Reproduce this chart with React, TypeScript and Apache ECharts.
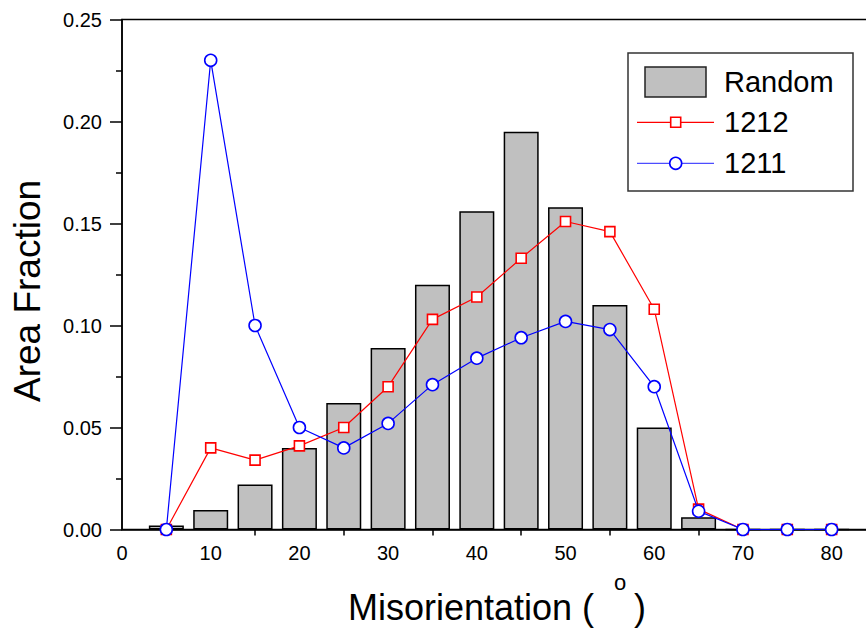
import React, { useEffect, useRef } from "react";
import * as echarts from "echarts";

const angles = [5, 10, 15, 20, 25, 30, 35, 40, 45, 50, 55, 60, 65, 70, 75, 80];
const randomValues = [0.002, 0.0095, 0.022, 0.04, 0.062, 0.089, 0.12, 0.156, 0.195, 0.158, 0.11, 0.05, 0.006, 0, 0, 0];
const values1212 = [0, 0.04, 0.034, 0.041, 0.05, 0.07, 0.103, 0.114, 0.133, 0.151, 0.146, 0.108, 0.01, 0, 0, 0];
const values1211 = [0, 0.23, 0.1, 0.05, 0.04, 0.052, 0.071, 0.084, 0.094, 0.102, 0.098, 0.07, 0.009, 0, 0, 0];
const xLabelValues = [0, 10, 20, 30, 40, 50, 60, 70, 80];
const xMinorTicks = [5, 15, 25, 35, 45, 55, 65, 75];
const xInnerTicks = [5, 10, 15, 20, 25, 30, 35, 40, 45, 50, 55, 60, 65, 70, 75, 80];

const FONT = "Arial, 'Liberation Sans', sans-serif";

export default function App() {
  const ref = useRef<HTMLDivElement>(null);
  useEffect(() => {
    if (!ref.current) return;
    const chart = echarts.init(ref.current, undefined, { renderer: "svg" });
    const pair = (vals: number[]) => angles.map((a, i) => [a, vals[i]]);
    chart.setOption({
      animation: false,
      backgroundColor: "#fff",
      grid: {
        left: 122,
        top: 19.5,
        right: 0,
        bottom: 101.5,
        show: true,
        borderColor: "#000",
        borderWidth: 1.5,
        backgroundColor: "transparent",
      },
      xAxis: [
        {
          type: "value",
          min: 0,
          max: 85,
          interval: 10,
          axisLine: { show: true, onZero: false, lineStyle: { color: "#000", width: 1.5 } },
          axisTick: { show: true, inside: true, length: 6, customValues: xInnerTicks, lineStyle: { color: "#000", width: 1.5 } },
          axisLabel: { show: true, customValues: xLabelValues, margin: 13, fontSize: 20, color: "#000", fontFamily: FONT },
          splitLine: { show: false },
        },
        {
          type: "value",
          min: 0,
          max: 85,
          interval: 10,
          position: "bottom",
          axisLine: { show: false },
          axisTick: { show: true, inside: false, length: 6, customValues: xMinorTicks, lineStyle: { color: "#000", width: 1.5 } },
          axisLabel: { show: false },
          splitLine: { show: false },
        },
      ],
      yAxis: {
        type: "value",
        min: 0,
        max: 0.25,
        interval: 0.05,
        axisLine: { show: true, lineStyle: { color: "#000", width: 1.5 } },
        axisTick: { show: true, inside: false, length: 12, lineStyle: { color: "#000", width: 1.5 } },
        minorTick: { show: true, splitNumber: 2, length: 6, lineStyle: { color: "#000", width: 1.5 } },
        axisLabel: {
          margin: 20,
          fontSize: 20,
          color: "#000",
          fontFamily: FONT,
          formatter: (v: number) => v.toFixed(2),
        },
        splitLine: { show: false },
        minorSplitLine: { show: false },
      },
      series: [
        {
          name: "Random",
          type: "bar",
          xAxisIndex: 0,
          data: pair(randomValues),
          barWidth: 35,
          itemStyle: { color: "#c0c0c0", borderColor: "#000", borderWidth: 1.5 },
          z: 2,
        },
        {
          name: "1212",
          type: "line",
          xAxisIndex: 0,
          data: pair(values1212),
          symbol: "rect",
          symbolSize: 10,
          clip: false,
          lineStyle: { color: "#ff0000", width: 1.2 },
          itemStyle: { color: "#ffffff", borderColor: "#ff0000", borderWidth: 1.6 },
          z: 3,
        },
        {
          name: "1211",
          type: "line",
          xAxisIndex: 0,
          data: pair(values1211),
          symbol: "circle",
          symbolSize: 12,
          clip: false,
          lineStyle: { color: "#0000ff", width: 1.2 },
          itemStyle: { color: "#ffffff", borderColor: "#0000ff", borderWidth: 1.6 },
          z: 4,
        },
      ],
      graphic: [
        {
          type: "text",
          x: 27,
          y: 291,
          rotation: Math.PI / 2,
          style: { text: "Area Fraction", fontSize: 37, fontFamily: FONT, fill: "#000", align: "center", verticalAlign: "middle" },
        },
        {
          type: "text",
          x: 348,
          y: 607.5,
          style: { text: "Misorientation (", fontSize: 36, fontFamily: FONT, fill: "#000", align: "left", verticalAlign: "middle" },
        },
        {
          type: "text",
          x: 620,
          y: 582,
          style: { text: "o", fontSize: 22, fontFamily: FONT, fill: "#000", align: "center", verticalAlign: "middle" },
        },
        {
          type: "text",
          x: 646,
          y: 607.5,
          style: { text: ")", fontSize: 36, fontFamily: FONT, fill: "#000", align: "right", verticalAlign: "middle" },
        },
        {
          type: "group",
          z: 100,
          children: [
            { type: "rect", shape: { x: 628, y: 53, width: 225, height: 138 }, style: { fill: "#fff", stroke: "#333", lineWidth: 1.5 } },
            { type: "rect", shape: { x: 645, y: 67, width: 61, height: 30 }, style: { fill: "#c0c0c0", stroke: "#222", lineWidth: 1.5 } },
            { type: "text", x: 724, y: 81.5, style: { text: "Random", fontSize: 29, fontFamily: FONT, fill: "#000", verticalAlign: "middle" } },
            { type: "line", shape: { x1: 637, y1: 122.3, x2: 714, y2: 122.3 }, style: { stroke: "#ff0000", lineWidth: 1.2 } },
            { type: "rect", shape: { x: 670.7, y: 117.3, width: 10, height: 10 }, style: { fill: "#fff", stroke: "#ff0000", lineWidth: 1.6 } },
            { type: "text", x: 724, y: 122, style: { text: "1212", fontSize: 29, fontFamily: FONT, fill: "#000", verticalAlign: "middle" } },
            { type: "line", shape: { x1: 637, y1: 163.3, x2: 714, y2: 163.3 }, style: { stroke: "#4d4dff", lineWidth: 1.2 } },
            { type: "circle", shape: { cx: 675.7, cy: 163.3, r: 6 }, style: { fill: "#fff", stroke: "#0000ff", lineWidth: 1.6 } },
            { type: "text", x: 724, y: 162.5, style: { text: "1211", fontSize: 29, fontFamily: FONT, fill: "#000", verticalAlign: "middle" } },
          ],
        },
      ],
    });
    return () => chart.dispose();
  }, []);
  return <div ref={ref} style={{ position: "fixed", left: 0, top: 0, width: 876, height: 631 }} />;
}
